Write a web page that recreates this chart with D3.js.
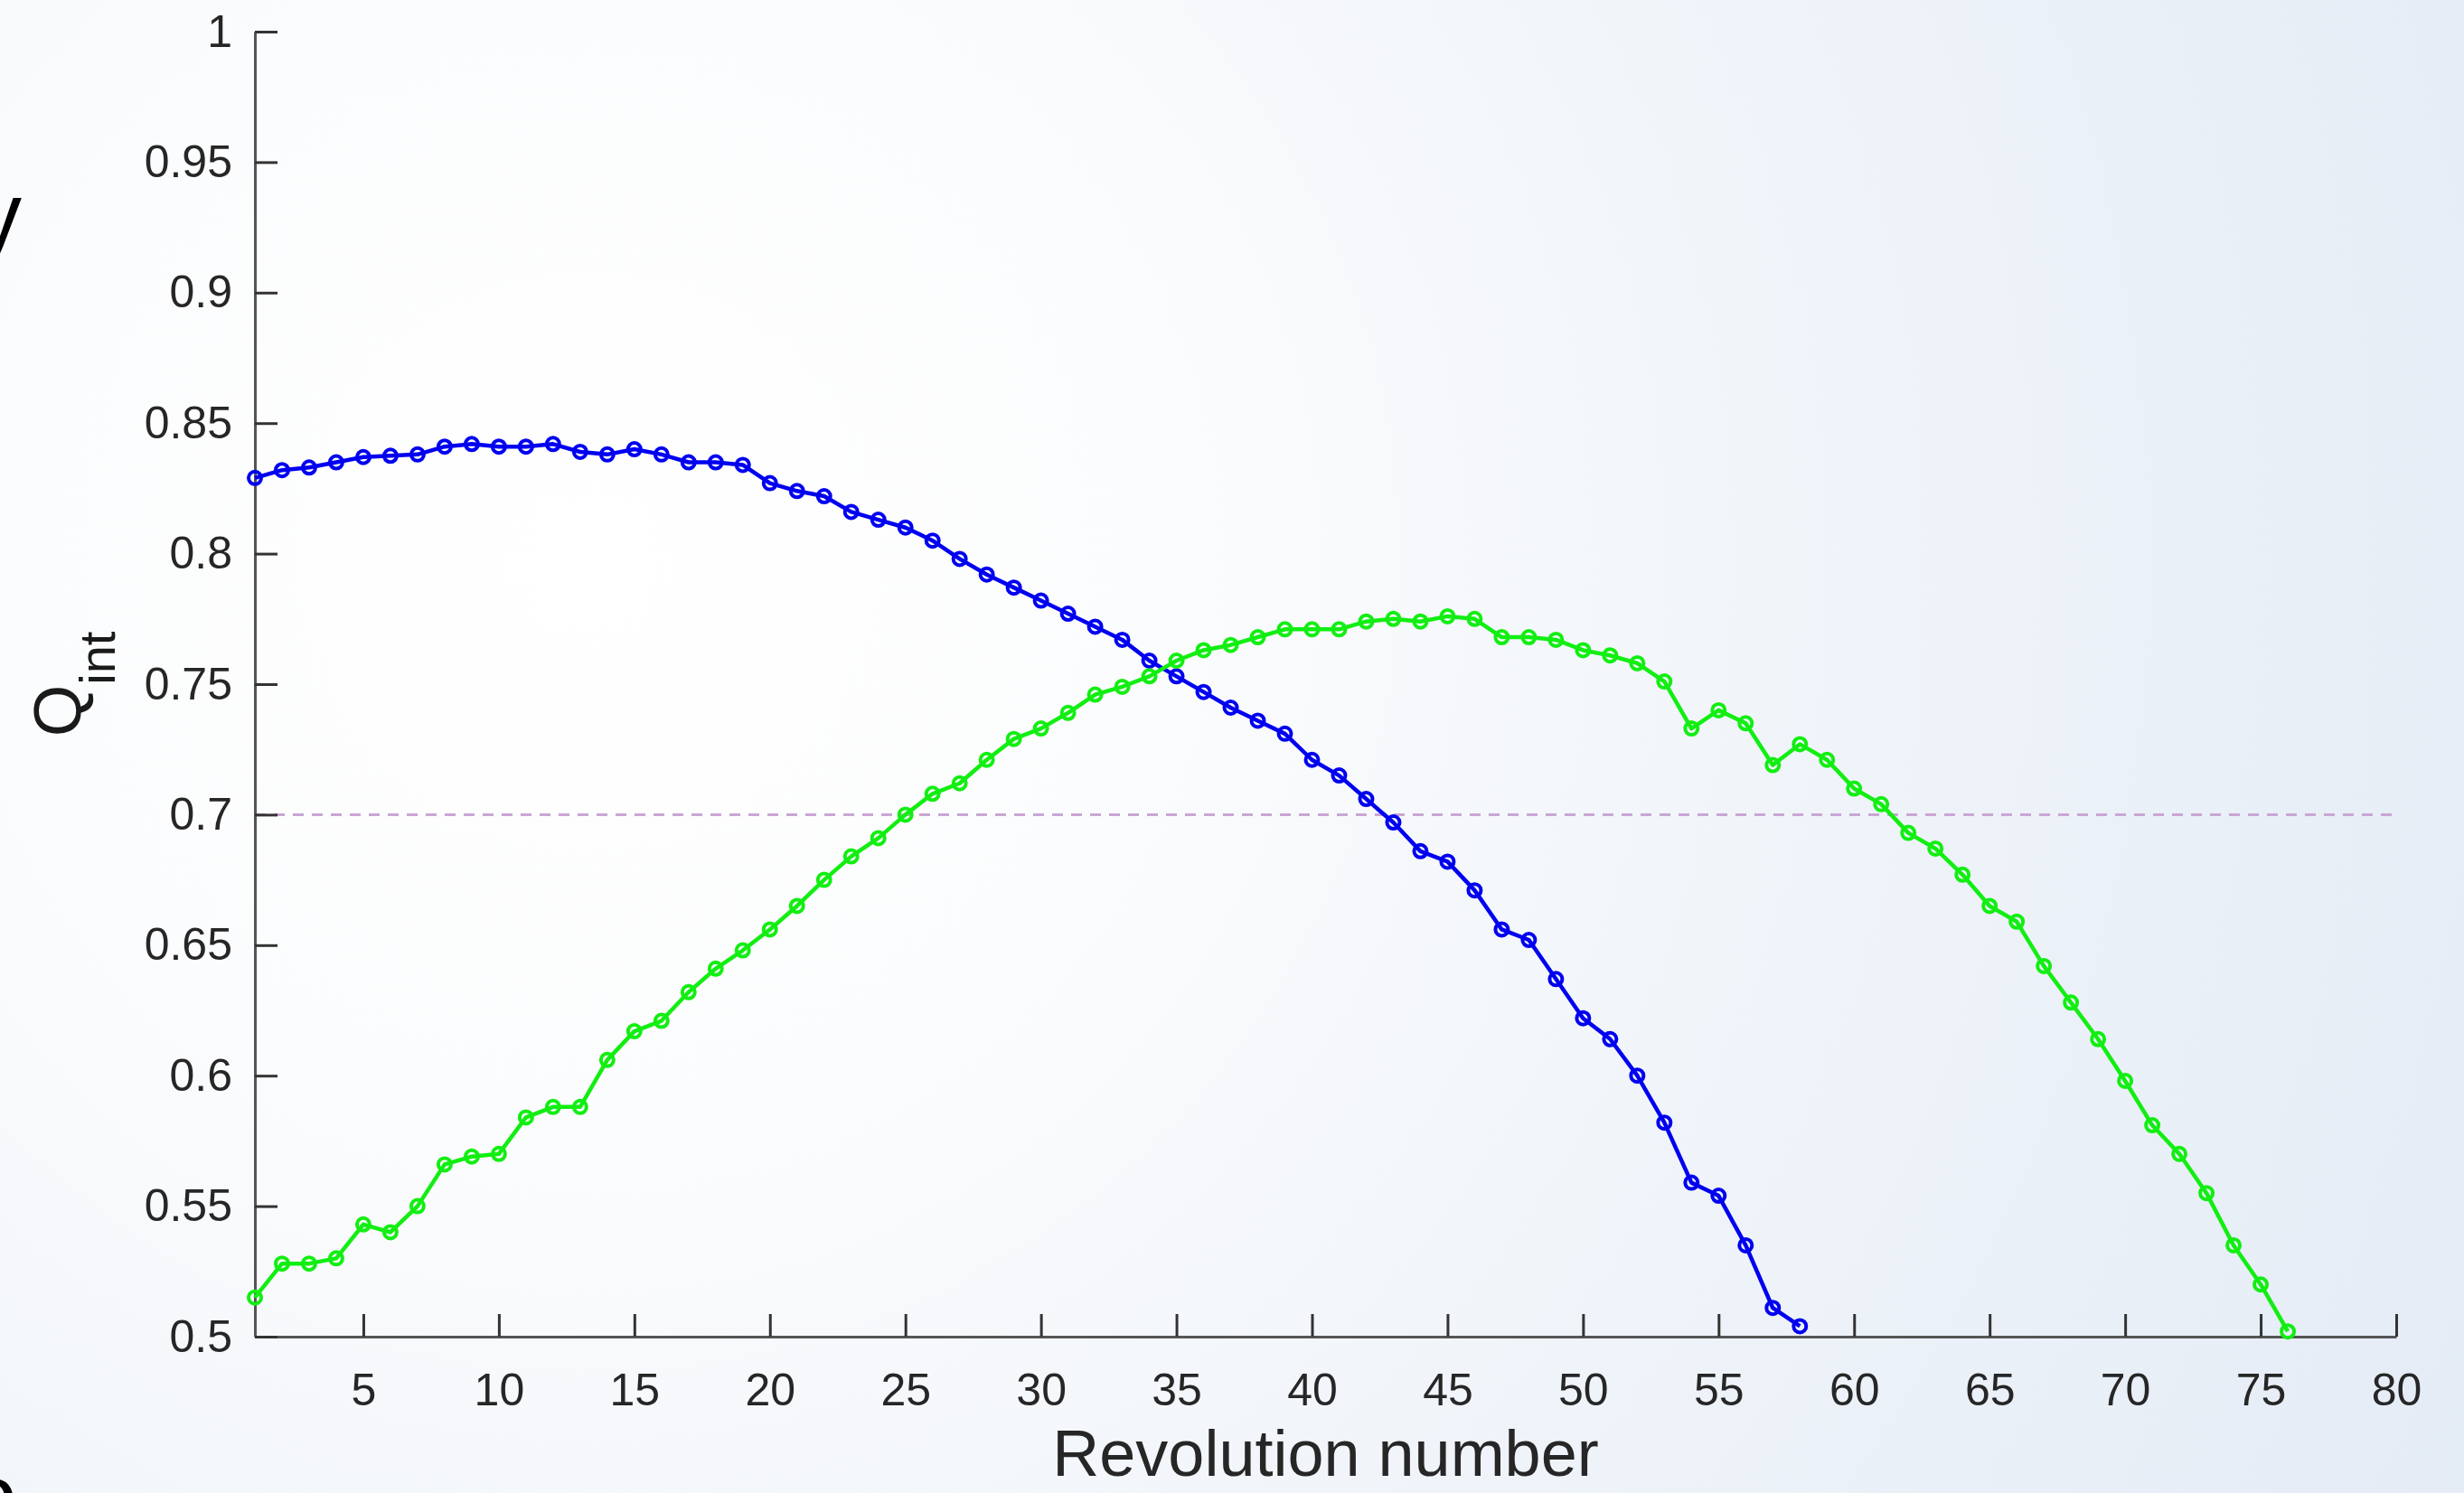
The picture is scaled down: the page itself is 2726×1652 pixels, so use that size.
<!DOCTYPE html>
<html>
<head>
<meta charset="utf-8">
<script src="https://cdn.jsdelivr.net/npm/d3@7"></script>
<style>
  html, body { margin: 0; padding: 0; background: #ffffff; }
  svg { display: block; }
  text { font-family: "Liberation Sans", Arial, Helvetica, sans-serif; }
</style>
</head>
<body>
<svg id="chart" width="2726" height="1652"></svg>
<script>
// ---------------- data ----------------
const revolutionsBlue = d3.range(1, 59);   // 1..58
const qBlue = [
  0.829, 0.832, 0.833, 0.835, 0.837, 0.8375, 0.838, 0.841, 0.842, 0.841,
  0.841, 0.842, 0.839, 0.838, 0.840, 0.838, 0.835, 0.835, 0.834, 0.827,
  0.824, 0.822, 0.816, 0.813, 0.810, 0.805, 0.798, 0.792, 0.787, 0.782,
  0.777, 0.772, 0.767, 0.759, 0.753, 0.747, 0.741, 0.736, 0.731, 0.721,
  0.715, 0.706, 0.697, 0.686, 0.682, 0.671, 0.656, 0.652, 0.637, 0.622,
  0.614, 0.600, 0.582, 0.559, 0.554, 0.535, 0.511, 0.504
];
const revolutionsGreen = d3.range(1, 77); // 1..76
const qGreen = [
  0.515, 0.528, 0.528, 0.530, 0.543, 0.540, 0.550, 0.566, 0.569, 0.570,
  0.584, 0.588, 0.588, 0.606, 0.617, 0.621, 0.632, 0.641, 0.648, 0.656,
  0.665, 0.675, 0.684, 0.691, 0.700, 0.708, 0.712, 0.721, 0.729, 0.733,
  0.739, 0.746, 0.749, 0.753, 0.759, 0.763, 0.765, 0.768, 0.771, 0.771,
  0.771, 0.774, 0.775, 0.774, 0.776, 0.775, 0.768, 0.768, 0.767, 0.763,
  0.761, 0.758, 0.751, 0.733, 0.740, 0.735, 0.719, 0.727, 0.721, 0.710,
  0.704, 0.693, 0.687, 0.677, 0.665, 0.659, 0.642, 0.628, 0.614, 0.598,
  0.581, 0.570, 0.555, 0.535, 0.520, 0.502
];
const thresholdValue = 0.7;
const xTicks = [5, 10, 15, 20, 25, 30, 35, 40, 45, 50, 55, 60, 65, 70, 75, 80];
const yTicks = [0.5, 0.55, 0.6, 0.65, 0.7, 0.75, 0.8, 0.85, 0.9, 0.95, 1];
const yTickLabels = ["0.5", "0.55", "0.6", "0.65", "0.7", "0.75", "0.8", "0.85", "0.9", "0.95", "1"];
const xDomain = [1, 80];
const yDomain = [0.5, 1];
const xTitle = "Revolution number";
const yTitleMain = "Q";
const yTitleSub = "int";

// ---------------- layout ----------------
const W = 2726, H = 1652;
const margin = { left: 282, top: 35, right: 75, bottom: 173 };
const svg = d3.select("#chart");

// background gradient
const defs = svg.append("defs");
const grad = defs.append("radialGradient")
  .attr("id", "bg").attr("gradientUnits", "userSpaceOnUse")
  .attr("cx", 650).attr("cy", 620).attr("r", 2500);
grad.append("stop").attr("offset", 0).attr("stop-color", "#ffffff");
grad.append("stop").attr("offset", 0.25).attr("stop-color", "#fbfcfd");
grad.append("stop").attr("offset", 0.6).attr("stop-color", "#eef3f9");
grad.append("stop").attr("offset", 1).attr("stop-color", "#e2eaf5");
svg.append("rect").attr("width", W).attr("height", H).attr("fill", "url(#bg)");

// stray cropped letters from neighbouring figure (cut off in the reference too)
svg.append("text").attr("x", 24).attr("y", 272).attr("text-anchor", "end")
  .attr("font-size", 100).attr("fill", "#000").text("y");
svg.append("text").attr("x", 19).attr("y", 1690).attr("text-anchor", "end")
  .attr("font-size", 100).attr("fill", "#000").text("o");

const x = d3.scaleLinear().domain(xDomain).range([margin.left, W - margin.right]);
const y = d3.scaleLinear().domain(yDomain).range([H - margin.bottom, margin.top]);

// threshold dashed line
svg.append("line")
  .attr("x1", x(xDomain[0])).attr("x2", x(xDomain[1]))
  .attr("y1", y(thresholdValue)).attr("y2", y(thresholdValue))
  .attr("stroke", "#c9a6d4").attr("stroke-width", 3)
  .attr("stroke-dasharray", "12,9");

// axes
const axisColor = "#555555";
const xAxis = svg.append("g")
  .attr("transform", `translate(0,${H - margin.bottom})`)
  .call(d3.axisBottom(x).tickValues(xTicks).tickSize(-25).tickSizeOuter(0).tickPadding(40)
    .tickFormat(d3.format("d")));
const yAxis = svg.append("g")
  .attr("transform", `translate(${margin.left},0)`)
  .call(d3.axisLeft(y).tickValues(yTicks).tickSize(-25).tickSizeOuter(0).tickPadding(25)
    .tickFormat((d, i) => yTickLabels[i]));
[xAxis, yAxis].forEach(g => {
  g.select(".domain").attr("stroke", axisColor).attr("stroke-width", 3);
  g.selectAll(".tick line").attr("stroke", "#333").attr("stroke-width", 3);
  g.selectAll(".tick text").attr("font-size", 50).attr("fill", "#262626")
    .attr("font-family", "Liberation Sans, Arial, sans-serif");
});

// series
function drawSeries(xs, ys, color) {
  const pts = xs.map((d, i) => [d, ys[i]]);
  const line = d3.line().x(d => x(d[0])).y(d => y(d[1]));
  const g = svg.append("g");
  g.append("path").datum(pts).attr("d", line)
    .attr("fill", "none").attr("stroke", color).attr("stroke-width", 4.5)
    .attr("stroke-linejoin", "round");
  g.selectAll("circle").data(pts).join("circle")
    .attr("cx", d => x(d[0])).attr("cy", d => y(d[1])).attr("r", 7)
    .attr("fill", "none").attr("stroke", color).attr("stroke-width", 4);
}
drawSeries(revolutionsBlue, qBlue, "#0000f0");
drawSeries(revolutionsGreen, qGreen, "#12ee12");

// titles
svg.append("text")
  .attr("x", (x(xDomain[0]) + x(xDomain[1])) / 2).attr("y", 1633)
  .attr("text-anchor", "middle").attr("font-size", 72).attr("fill", "#262626")
  .text(xTitle);
const yl = svg.append("text")
  .attr("transform", `translate(89,${(margin.top + H - margin.bottom) / 2}) rotate(-90)`)
  .attr("text-anchor", "middle").attr("fill", "#1a1a1a");
yl.append("tspan").attr("font-size", 74).text(yTitleMain);
yl.append("tspan").attr("font-size", 56).attr("dy", 38).text(yTitleSub);
</script>
</body>
</html>
